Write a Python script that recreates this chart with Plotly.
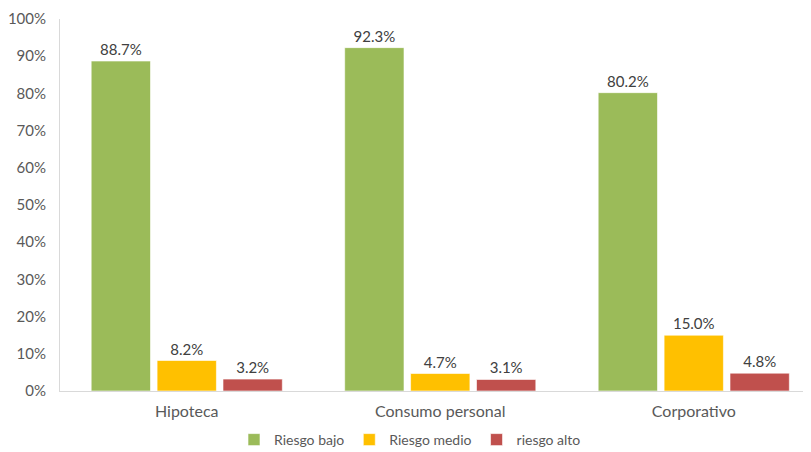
import plotly.graph_objects as go

categories = ["Hipoteca", "Consumo personal", "Corporativo"]
riesgo_bajo = [88.7, 92.3, 80.2]
riesgo_medio = [8.2, 4.7, 15.0]
riesgo_alto = [3.2, 3.1, 4.8]
series_names = ["Riesgo bajo", "Riesgo medio", "riesgo alto"]
colors = ["#9BBB59", "#FFC000", "#C0504D"]
y_ticks = [0, 10, 20, 30, 40, 50, 60, 70, 80, 90, 100]
y_tick_labels = [f"{v}%" for v in y_ticks]

fig = go.Figure()
for name, vals, col in zip(series_names, [riesgo_bajo, riesgo_medio, riesgo_alto], colors):
    fig.add_trace(go.Bar(
        x=categories, y=vals, name=name,
        marker=dict(color=col, line=dict(color="rgba(255,255,255,0.6)", width=1)),
        texttemplate="%{y:.1f}%", textposition="outside",
        textfont=dict(size=15, color="#404040"),
        cliponaxis=False,
    ))

fig.update_layout(
    width=811, height=452,
    margin=dict(l=52, r=8, t=11, b=69, autoexpand=False),
    paper_bgcolor="white", plot_bgcolor="white",
    font=dict(family="Lato, 'Open Sans', sans-serif", color="#595959", size=15),
    barmode="group", bargap=0.22, bargroupgap=0.1,
    showlegend=True,
    legend=dict(orientation="h", x=402 / 811, xref="container", xanchor="center",
                y=20 / 452, yref="container", yanchor="middle",
                font=dict(size=14, color="#595959"), itemwidth=30,
                traceorder="normal"),
)
fig.update_yaxes(range=[0, 100], tickmode="array", tickvals=y_ticks, ticktext=y_tick_labels,
                 showgrid=False, showline=True, linecolor="#D9D9D9", linewidth=1,
                 zeroline=False, ticks="", ticklabelstandoff=10,
                 tickfont=dict(size=15, color="#595959"))
fig.update_xaxes(range=[-0.5, 2.4625], showgrid=False, showline=True,
                 linecolor="#D9D9D9", linewidth=1, ticks="", ticklabelstandoff=6,
                 tickfont=dict(size=16, color="#595959"))

fig.write_html("out.html")
